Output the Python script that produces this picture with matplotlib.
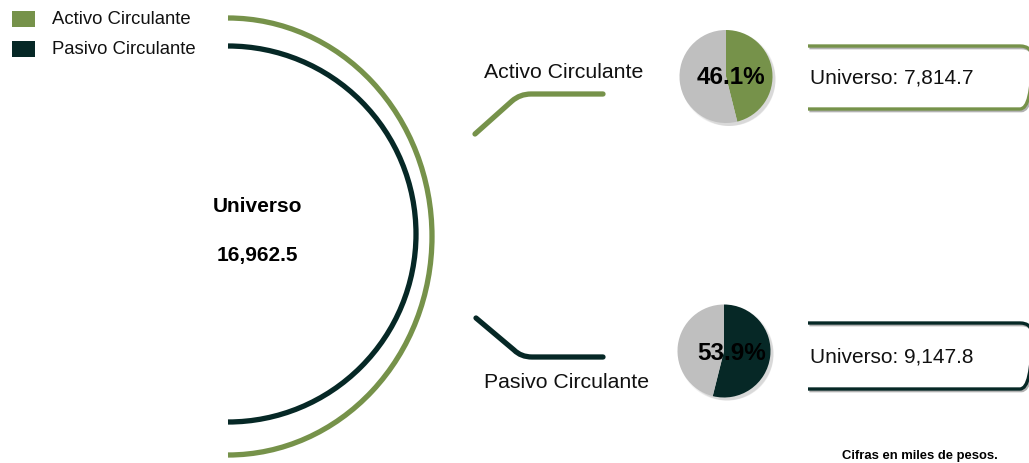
import matplotlib
matplotlib.use("Agg")
import matplotlib.pyplot as plt
from matplotlib.patches import Arc, Rectangle, PathPatch, Circle
from matplotlib.path import Path
import matplotlib.patheffects as pe

# ---- data ----
categories = ["Activo Circulante", "Pasivo Circulante"]
shares = [46.1, 53.9]              # % of universe
universe_values = ["7,814.7", "9,147.8"]
total_label = "16,962.5"
note = "Cifras en miles de pesos."

GREEN = "#76924a"
DARK = "#062826"
GRAY = "#bfbfbf"
colors = [GREEN, DARK]

plt.rcParams['font.family'] = ['Liberation Sans', 'DejaVu Sans']

fig = plt.figure(figsize=(10.29, 4.63), dpi=100)
ax = fig.add_axes([0, 0, 1, 1])

def setlims():
    ax.set_xlim(0, 1029)
    ax.set_ylim(463, 0)
    ax.set_aspect('equal')
    ax.axis('off')

# ---- legend ----
for i, (cat, c) in enumerate(zip(categories, colors)):
    y = 19 + i * 30
    ax.add_patch(Rectangle((12, y - 8), 23, 16, color=c, lw=0))
    ax.text(52, y, cat, fontsize=13.3, va='center', ha='left', color='#111111')

# ---- big arcs ----
ax.add_patch(Arc((228, 236.5), 2 * 204, 437, theta1=-90, theta2=90,
                 color=GREEN, lw=3.8))
ax.add_patch(Arc((228, 234), 2 * 188, 376, theta1=-90, theta2=90,
                 color=DARK, lw=3.8))

ax.text(257, 207, "Universo", fontsize=15, fontweight='bold', ha='center', va='center')
ax.text(257, 256, total_label, fontsize=15, fontweight='bold', ha='center', va='center')

# ---- connectors ----
con_paths = [
    [(475, 134), (512, 101), (520, 94), (531, 94), (603, 94)],
    [(476, 318), (514, 350), (521, 357), (532, 357), (603, 357)],
]
codes = [Path.MOVETO, Path.LINETO, Path.CURVE3, Path.CURVE3, Path.LINETO]
for verts, c in zip(con_paths, colors):
    ax.add_patch(PathPatch(Path(verts, codes), fill=False, edgecolor=c, lw=3.8,
                           capstyle='round', joinstyle='round'))

ax.text(484, 72, categories[0], fontsize=15.3, ha='left', va='center', color='#111111')
ax.text(484, 383, categories[1], fontsize=15.3, ha='left', va='center', color='#111111')

# ---- pies ----
pie_centers = [(726, 76.5), (724, 351)]
label_pos = [(731, 78), (732, 353)]
R = 46.5
for k, (share, c) in enumerate(zip(shares, colors)):
    cx, cy = pie_centers[k]
    for j, a in enumerate([0.05, 0.05, 0.05]):
        ax.add_patch(Circle((cx + 2 + j, cy + 2 + j), R + 1 - j, color='black',
                            alpha=a, lw=0, zorder=1))
    ax.pie([share, 100 - share], colors=[c, GRAY], center=(cx, cy), radius=R,
           startangle=-90, counterclock=True,
           wedgeprops=dict(linewidth=0, zorder=2))
    ax.text(label_pos[k][0], label_pos[k][1], f"{share:.1f}%", fontsize=17.5,
            fontweight='bold', ha='center', va='center', color='black', zorder=5)

# ---- bracket boxes ----
box_y = [(46, 109), (323, 389)]
for (yt, yb), c, val in zip(box_y, colors, universe_values):
    verts = [(808, yt), (1020, yt), (1032, yt), (1032, yt + 12),
             (1032, yb - 12), (1032, yb), (1020, yb), (808, yb)]
    cds = [Path.MOVETO, Path.LINETO, Path.CURVE3, Path.CURVE3,
           Path.LINETO, Path.CURVE3, Path.CURVE3, Path.LINETO]
    ax.add_patch(PathPatch(Path(verts, cds), fill=False, edgecolor=c, lw=2.4,
                           path_effects=[pe.SimpleLineShadow(offset=(1.0, -1.2), alpha=0.3),
                                         pe.Normal()]))
    ax.text(810, (yt + yb) / 2 + 1, f"Universo: {val}", fontsize=15, ha='left',
            va='center', color='#111111')

ax.text(998, 456, note, fontsize=9.4, fontweight='bold', ha='right', va='center')

setlims()
fig.savefig("out.png", dpi=100)
